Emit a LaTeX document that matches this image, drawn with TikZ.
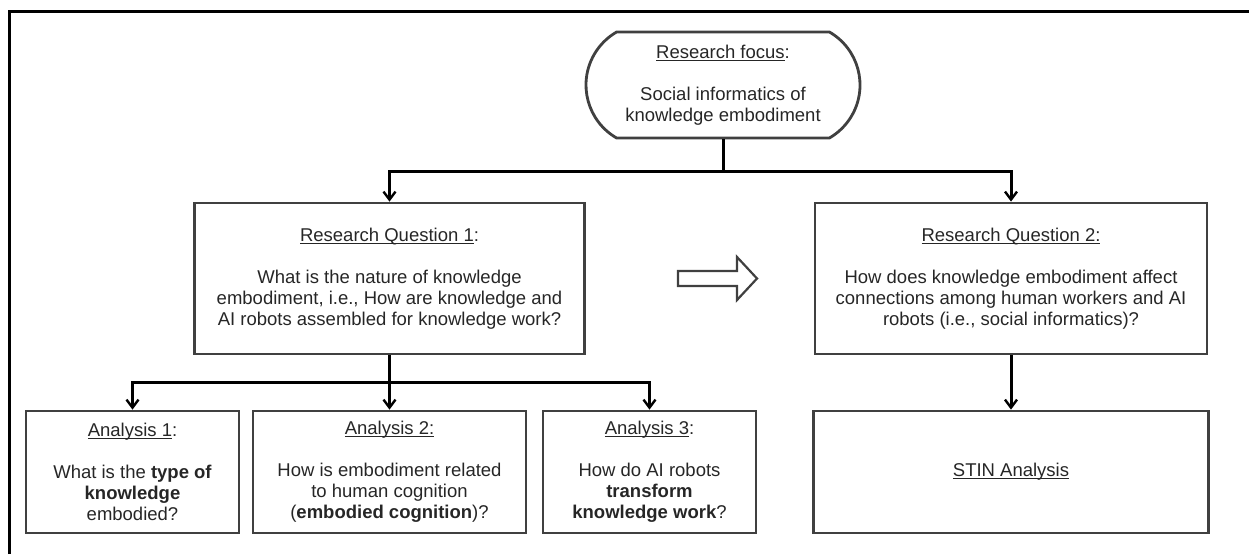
\documentclass[tikz,border=0pt]{standalone}
\usepackage{fontspec}
\setmainfont{Liberation Sans}
\usetikzlibrary{arrows.meta,shapes,positioning}
\newcommand{\undl}[1]{\setbox0\hbox{#1}\rlap{\rule[-2.4pt]{\wd0}{1pt}}\box0}

\begin{document}
\begin{tikzpicture}[x=1pt,y=-1pt]
   \tikzstyle{box}=[draw=black!75,line width=2.8pt,rectangle,align=center,inner sep=0pt,font=\fontsize{18.5}{21}\selectfont,text=black!85]
   \tikzstyle{ar}=[line width=3pt,-{Straight Barb[length=8pt,width=12pt,line width=2.4pt]}]
   \tikzstyle{wide}=[box,minimum width=390pt,minimum height=151pt]
   \tikzstyle{ana}=[box,minimum width=213pt,minimum height=122pt]
   \tikzstyle{hollow}=[draw=black!75,line width=2.2pt,line join=miter]

   \useasboundingbox (0,0) rectangle (1249,554);
   \draw [line width=3pt] (9.5,554) -- (9.5,11) -- (1249,11);

   \node (focus) [box,rounded rectangle,rounded rectangle arc length=120,minimum width=274pt,minimum height=106pt] at (723,85)
      {\undl{Research focus}:\\[21pt]Social informatics of\\knowledge embodiment};
   \node (rq1) [wide] at (389.5,278.5)
      {\undl{Research Question 1}:\\[21pt]What is the nature of knowledge\\embodiment, i.e., How are knowledge and\\AI robots assembled for knowledge work?};
   \node (rq2) [wide,minimum width=392pt] at (1011,278.5)
      {\undl{Research Question 2:}\\[21pt]How does knowledge embodiment affect\\connections among human workers and AI\\robots (i.e., social informatics)?};
   \node (a1) [ana] at (132.5,472)
      {\undl{Analysis 1}:\\[21pt]What is the \textbf{type of}\\\textbf{knowledge}\\embodied?};
   \node (a2) [ana,minimum width=273pt] at (389.5,472)
      {\undl{Analysis 2:}\\[21pt]How is embodiment related\\to human cognition\\(\textbf{embodied cognition})?};
   \node (a3) [ana] at (649.5,472)
      {\undl{Analysis 3}:\\[21pt]How do AI robots\\\textbf{transform}\\\textbf{knowledge work}?};
   \node (stin) [ana,minimum width=395pt] at (1011,472) {\undl{STIN Analysis}};

   \coordinate (j1) at (723,171);
   \coordinate (j2) at (389.5,382);
   \draw [ar] (focus.south) -- (j1) -| (rq1.north);
   \draw [ar] (j1) -| (rq2.north);
   \draw [line width=3pt] (rq1.south) -- (j2);
   \draw [ar] (j2) -| (a1.north);
   \draw [ar] (j2) -- (a2.north);
   \draw [ar] (j2) -| (a3.north);
   \draw [ar] (rq2.south) -- (stin.north);

   \coordinate (h) at (678,278.5);
   \draw [hollow] (h) ++(0,-7.5) -- ++(59,0) -- ++(0,-14) -- ++(20,21.5) -- ++(-20,21.5) -- ++(0,-14) -- ++(-59,0) -- cycle;
\end{tikzpicture}
\end{document}
